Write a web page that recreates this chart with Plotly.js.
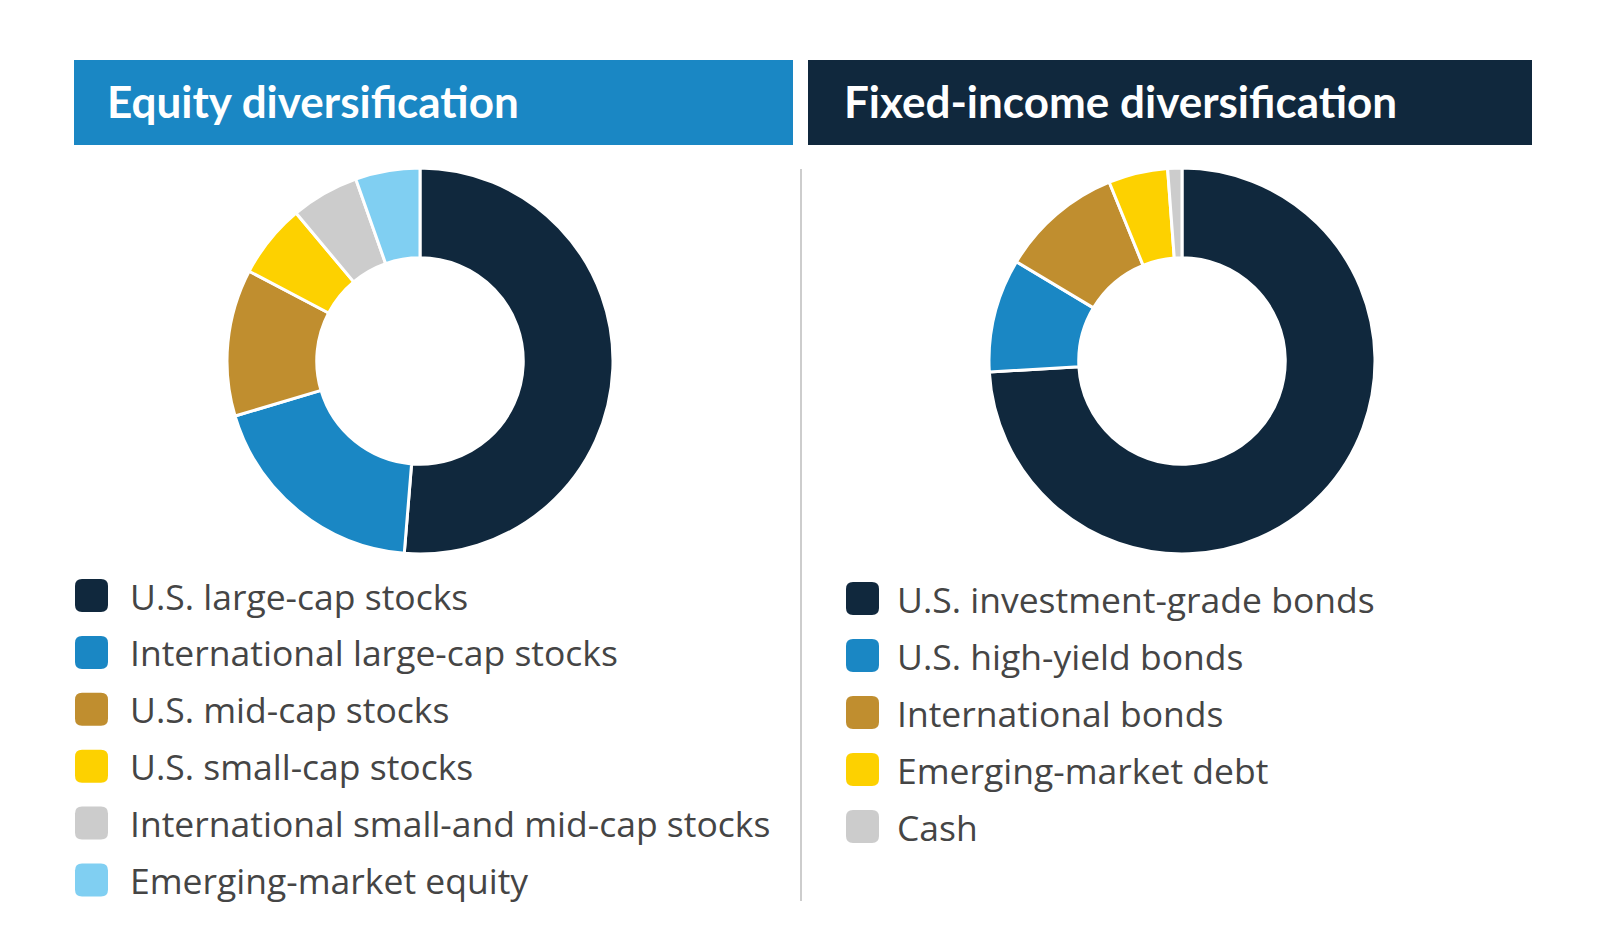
<!DOCTYPE html>
<html><head><meta charset="utf-8">
<script src="https://cdn.plot.ly/plotly-3.0.1.min.js"></script>
<style>html,body{margin:0;padding:0;background:#fff;}#chart{width:1600px;height:947px;}</style>
</head><body><div id="chart"></div>
<script>
// ---- data ----
const equityLabels = ["U.S. large-cap stocks","International large-cap stocks","U.S. mid-cap stocks","U.S. small-cap stocks","International small-and mid-cap stocks","Emerging-market equity"];
const equityValues = [51.3, 19.1, 12.3, 6.2, 5.7, 5.4];
const equityColors = ["#10283d","#1a87c4","#c08e2f","#fdd100","#cccccc","#80cff2"];

const fixedLabels = ["U.S. investment-grade bonds","U.S. high-yield bonds","International bonds","Emerging-market debt","Cash"];
const fixedValues = [74.1, 9.5, 10.25, 4.96, 1.19];
const fixedColors = ["#10283d","#1a87c4","#c08e2f","#fdd100","#cccccc"];

const panelTitles = ["Equity diversification","Fixed-income diversification"];
const headerColors = ["#1a87c4","#10283d"];

// ---- layout helpers (pixel -> paper) ----
const W = 1600, H = 947;
const px = x => x / W;
const py = y => 1 - y / H;

function donut(labels, values, colors, cx, cy, r) {
  return {
    type: 'pie', labels: labels, values: values, sort: false,
    direction: 'clockwise', rotation: 0, hole: 0.535,
    marker: {colors: colors, line: {color: '#ffffff', width: 3}},
    textinfo: 'none', hoverinfo: 'label+percent', showlegend: false,
    domain: {x: [px(cx - r), px(cx + r)], y: [py(cy + r), py(cy - r)]}
  };
}

const data = [
  donut(equityLabels, equityValues, equityColors, 420, 361, 193),
  donut(fixedLabels, fixedValues, fixedColors, 1182, 361, 193)
];

const shapes = [];
const annotations = [];

// headers
const headerBoxes = [[74, 793, 105], [808, 1532, 842]];
headerBoxes.forEach((b, i) => {
  shapes.push({type: 'rect', xref: 'paper', yref: 'paper', x0: px(b[0]), x1: px(b[1]), y0: py(145), y1: py(60),
    fillcolor: headerColors[i], line: {width: 0}, layer: 'below'});
  annotations.push({xref: 'paper', yref: 'paper', x: px(b[2]), y: py(101), xanchor: 'left', yanchor: 'middle',
    text: '<b>' + panelTitles[i] + '</b>', showarrow: false,
    font: {family: 'Lato, sans-serif', size: 44, color: '#ffffff'}});
});

// divider
shapes.push({type: 'line', xref: 'paper', yref: 'paper', x0: px(801), x1: px(801), y0: py(169), y1: py(901),
  line: {color: '#bdbdbd', width: 1.5}});

// legends
function roundRect(x0, y0, x1, y1, rad) {
  const X = px, Y = py;
  return 'M' + X(x0 + rad) + ',' + Y(y0) +
    ' L' + X(x1 - rad) + ',' + Y(y0) + ' Q' + X(x1) + ',' + Y(y0) + ' ' + X(x1) + ',' + Y(y0 + rad) +
    ' L' + X(x1) + ',' + Y(y1 - rad) + ' Q' + X(x1) + ',' + Y(y1) + ' ' + X(x1 - rad) + ',' + Y(y1) +
    ' L' + X(x0 + rad) + ',' + Y(y1) + ' Q' + X(x0) + ',' + Y(y1) + ' ' + X(x0) + ',' + Y(y1 - rad) +
    ' L' + X(x0) + ',' + Y(y0 + rad) + ' Q' + X(x0) + ',' + Y(y0) + ' ' + X(x0 + rad) + ',' + Y(y0) + ' Z';
}
function legend(labels, colors, mx, tx, y0, step) {
  labels.forEach((lab, i) => {
    const cy = y0 + i * step;
    shapes.push({type: 'path', xref: 'paper', yref: 'paper', path: roundRect(mx, cy - 16.5, mx + 33, cy + 16.5, 7),
      fillcolor: colors[i], line: {width: 0}});
    annotations.push({xref: 'paper', yref: 'paper', x: px(tx), y: py(cy), xanchor: 'left', yanchor: 'middle',
      text: lab, showarrow: false, font: {family: '"Open Sans", sans-serif', size: 35.5, color: '#454545'}});
  });
}
legend(equityLabels, equityColors, 75, 128, 595.5, 56.9);
legend(fixedLabels, fixedColors, 846, 895, 598.5, 57);

const layout = {
  width: W, height: H, margin: {l: 0, r: 0, t: 0, b: 0},
  paper_bgcolor: '#ffffff', plot_bgcolor: '#ffffff',
  shapes: shapes, annotations: annotations, showlegend: false
};
Plotly.newPlot('chart', data, layout, {displayModeBar: false, responsive: false});
</script>
</body></html>
